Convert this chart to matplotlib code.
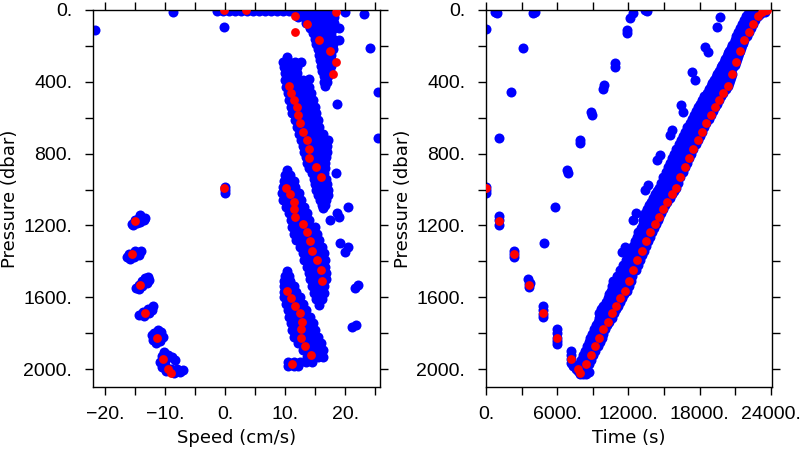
import matplotlib
matplotlib.use("Agg")
import matplotlib.pyplot as plt
from matplotlib.ticker import MultipleLocator, FuncFormatter

# ping values: pressure (dbar), speed (cm/s), time (s)
red_pres = [993, 1174, 1361, 1532, 1690, 1825, 1946, 2000, 2021,
            1974, 1922, 1872, 1825, 1779, 1736, 1690, 1647, 1603, 1565,
            1510, 1448, 1393, 1341, 1287, 1239, 1190, 1151, 1109, 1068, 1025, 990,
            932, 876, 826, 774, 724, 678, 631, 585, 542, 501, 461, 422,
            357, 288, 227, 167, 124, 78, 33, 13, 0, 0]
red_speed = [-0.2, -15.05, -15.55, -14.2, -13.3, -11.3, -10.3, -9.55, -8.95,
             11.2, 14.3, 13.3, 12.7, 12.6, 12.8, 12.45, 11.6, 10.9, 10.3,
             16.2, 15.9, 15.3, 14.55, 14.2, 13.6, 12.9, 11.7, 11.5, 11.4, 10.8, 10.1,
             16.0, 15.2, 14.05, 13.95, 13.7, 13.05, 12.5, 12.2, 11.9, 11.5, 10.9, 10.7,
             17.9, 18.5, 17.4, 15.7, 11.7, 13.6, 11.7, 18.4, 3.5, -0.2]
red_time = [0, 1123, 2390, 3600, 4780, 5985, 7190, 7730, 7950,
            8455, 8825, 9190, 9555, 9890, 10260, 10630, 10990, 11330, 11700,
            12060, 12420, 12760, 13130, 13490, 13830, 14200, 14560, 14930, 15290, 15660, 16020,
            16380, 16750, 17110, 17480, 17840, 18210, 18570, 18940, 19300, 19640, 20000, 20370,
            20710, 21080, 21420, 21780, 22140, 22510, 22900, 23250, 23520, 23700]

# bin speeds, rows of (pressure, speeds)
speed_rows = [
    (8, [-1.3, -0.3, 0.7, 1.7, 2.7, 3.7, 4.7, 5.7, 6.7, 7.7, 8.7, 9.7, 10.7, 11.7, 12.7, 13.7, 14.7, 15.7, 16.7, 17.7]),
    (40, [12.2, 13.2, 14.2, 15.2, 16.2, 17.2, 18.2]),
    (70, [13.4, 14.4, 15.4, 16.4, 17.4, 18.2]),
    (100, [14.2, 15.2, 16.2, 17.2, 18.2]),
    (130, [14.7, 15.7, 16.7, 17.7]),
    (160, [14.9, 15.9, 16.9, 17.9]),
    (190, [15.2, 16.2, 17.2, 17.9]),
    (220, [15.4, 16.4, 17.4, 17.9]),
    (250, [15.6, 16.6, 17.6]),
    (280, [15.8, 16.8, 17.7]),
    (310, [16.0, 16.9, 17.7]),
    (340, [16.2, 17.0, 17.5]),
    (370, [16.4, 17.2]),
    (400, [16.5, 17.0]),
    (425, [16.7]),
    # middle-upper band
    (263, [10.3]),
    (290, [9.6, 10.6, 11.6, 12.6]),
    (320, [9.8, 10.8, 11.9]),
    (353, [9.9, 10.9, 11.9]),
    (390, [10.0, 11.0, 12.0, 13.0]),
    (427, [10.1, 11.1, 12.1, 13.1, 14.0]),
    (460, [10.4, 11.4, 12.4, 13.4, 14.3]),
    (501, [10.7, 11.7, 12.7, 13.7, 14.6]),
    (540, [11.0, 12.0, 13.0, 14.0, 14.9]),
    (576, [11.2, 12.2, 13.2, 14.2, 15.2]),
    (610, [11.6, 12.6, 13.6, 14.6, 15.4]),
    (650, [11.9, 12.9, 13.9, 14.9, 15.7]),
    (690, [12.3, 13.3, 14.3, 15.3, 16.3]),
    (724, [12.6, 13.6, 14.6, 15.6, 16.6, 17.1]),
    (760, [12.9, 13.9, 14.9, 15.9, 16.9]),
    (790, [13.1, 14.1, 15.1, 16.1, 16.9]),
    (817, [13.4, 14.4, 15.4, 16.4, 16.8]),
    (850, [13.7, 14.7, 15.7, 16.7]),
    (880, [14.0, 15.0, 16.0, 16.7]),
    (910, [14.5, 15.5, 16.5]),
    (940, [14.8, 15.8, 16.8]),
    (970, [15.0, 16.0, 17.0]),
    (1003, [15.1, 16.1, 17.2]),
    (1030, [15.4, 16.3, 17.1]),
    (1058, [15.8, 16.8]),
    (1085, [16.1, 16.7]),
    (1103, [16.3]),
    # middle-lower band
    (890, [10.3]),
    (920, [10.0, 10.8]),
    (950, [9.8, 10.8, 11.4]),
    (984, [9.6, 10.6, 11.6]),
    (1020, [9.5, 10.5, 11.5, 12.3]),
    (1058, [9.6, 10.6, 11.6, 12.6]),
    (1095, [10.2, 11.2, 12.2, 13.2]),
    (1133, [10.7, 11.7, 12.7, 13.7]),
    (1170, [11.0, 12.0, 13.0, 14.0]),
    (1207, [11.2, 12.2, 13.2, 14.2, 14.9]),
    (1245, [11.5, 12.5, 13.5, 14.5, 15.3]),
    (1281, [11.8, 12.8, 13.8, 14.8, 15.7]),
    (1320, [12.5, 13.5, 14.5, 15.5, 16.2]),
    (1355, [12.9, 13.9, 14.9, 15.9, 16.4]),
    (1393, [13.2, 14.2, 15.2, 16.2, 16.6]),
    (1430, [13.6, 14.6, 15.6, 16.6]),
    (1465, [13.9, 14.9, 15.9, 16.8]),
    (1500, [14.1, 15.1, 16.1, 16.8]),
    (1540, [14.5, 15.5, 16.5]),
    (1578, [14.8, 15.7, 16.5]),
    (1610, [15.2, 16.2]),
    (1643, [15.6]),
    # deepest band
    (1452, [10.3]),
    (1480, [10.0, 10.6]),
    (1510, [9.8, 10.8]),
    (1540, [9.8, 10.8, 11.5]),
    (1570, [9.8, 10.8, 11.8]),
    (1600, [9.8, 10.8, 11.8, 12.4]),
    (1635, [10.1, 11.1, 12.1, 12.9]),
    (1671, [10.4, 11.4, 12.4, 13.5]),
    (1708, [10.7, 11.7, 12.7, 13.7, 14.1]),
    (1746, [11.0, 12.0, 13.0, 14.0, 14.6]),
    (1783, [11.2, 12.2, 13.2, 14.2, 15.0]),
    (1820, [11.5, 12.5, 13.5, 14.5, 15.4]),
    (1857, [12.2, 13.2, 14.2, 15.2, 15.9]),
    (1894, [12.9, 13.9, 14.9, 15.9, 16.3]),
    (1931, [13.6, 14.6, 15.5, 16.3]),
    (1960, [10.4, 11.4, 12.4, 13.4, 14.4]),
    (1985, [10.4, 11.4, 12.2]),
]

# descent bins and isolated bins (speed, pressure)
desc_speed = [-15.5, -15.0, -14.5, -14.0, -13.5, -13.3, -14.6, -15.3, -14.1, -14.2,
              -16.3, -15.8, -15.2, -14.6, -14.0, -15.0, -16.0, -14.3,
              -14.8, -14.4, -13.8, -13.0, -12.6, -13.3, -13.8, -14.3, -12.8,
              -14.3, -13.5, -12.6, -12.2, -12.0, -12.8, -13.6,
              -12.2, -12.0, -11.5, -10.8, -10.4, -10.6, -11.2, -11.8,
              -10.9, -10.5, -10.2, -9.5, -8.8, -8.4, -9.8, -10.6,
              -10.5, -9.8, -8.5, -7.5, -7.0, -8.0, -9.0, -10.0,
              0.0, 0.0, 0.0]
desc_pres = [1190, 1172, 1165, 1160, 1172, 1158, 1185, 1200, 1182, 1140,
             1375, 1385, 1375, 1352, 1345, 1340, 1360, 1362,
             1548, 1556, 1540, 1520, 1505, 1495, 1510, 1530, 1490,
             1698, 1705, 1690, 1670, 1650, 1665, 1680,
             1810, 1840, 1856, 1845, 1820, 1795, 1780, 1798,
             1960, 1930, 1905, 1920, 1935, 1950, 1945, 1962,
             1990, 2012, 2022, 2018, 2006, 1998, 2002, 1978,
             985, 1003, 1020]
odd_speed = [18.9, 18.9, 14.05, 18.6, 20.0, 23.2, 24.2, 25.4, 25.4, -21.6, -8.6, -0.2,
             18.5, 20.4, 18.6, 18.9, 17.5, 19.2, 20.5, 20.0, 22.2, 21.7, 21.1, 21.8]
odd_pres = [102, 167, 386, 525, 9, 22, 213, 455, 715, 111, 13, 93,
            910, 1096, 1133, 1151, 1170, 1300, 1318, 1346, 1532, 1550, 1768, 1755]

# bin times, rows of (pressure, times)
time_rows = [
    (1974, [7800, 8150, 8455, 8650]),
    (1948, [7975, 8325, 8640, 8850]),
    (1922, [8150, 8500, 8825, 9050]),
    (1897, [8325, 8675, 9010, 9225]),
    (1872, [8500, 8850, 9190, 9400]),
    (1848, [8650, 9000, 9370, 9575]),
    (1825, [8800, 9150, 9555, 9750]),
    (1802, [8950, 9325, 9720, 9900]),
    (1779, [9100, 9500, 9890, 10050]),
    (1757, [9275, 9675, 10075, 10225]),
    (1736, [9450, 9850, 10260, 10400]),
    (1713, [9500, 9875, 10250, 10450, 10600]),
    (1690, [9550, 9900, 10250, 10630, 10750]),
    (1668, [9725, 10075, 10425, 10810, 10925]),
    (1647, [9900, 10250, 10600, 10990, 11100]),
    (1625, [10075, 10425, 10775, 11160, 11275]),
    (1603, [10250, 10600, 10950, 11330, 11450]),
    (1584, [10400, 10750, 11125, 11515, 11650]),
    (1565, [10550, 10900, 11300, 11700, 11850]),
    (1537, [10625, 10975, 11350, 11725, 11900, 12050]),
    (1510, [10700, 11050, 11400, 11750, 12060, 12250]),
    (1479, [11000, 11350, 11700, 12090, 12330]),
    (1448, [11300, 11650, 12000, 12420, 12600]),
    (1420, [11550, 11875, 12225, 12590, 12775]),
    (1393, [11800, 12100, 12450, 12760, 12950]),
    (1367, [12000, 12300, 12625, 12945, 13150]),
    (1341, [12200, 12500, 12800, 13130, 13350]),
    (1314, [12375, 12675, 12975, 13310, 13500]),
    (1287, [12550, 12850, 13150, 13490, 13650]),
    (1263, [12700, 13025, 13325, 13660, 13825]),
    (1239, [12850, 13200, 13500, 13830, 14000]),
    (1214, [13025, 13350, 13675, 14015, 14175]),
    (1190, [13200, 13500, 13850, 14200, 14350]),
    (1170, [13250, 13575, 13925, 14250, 14455]),
    (1151, [13300, 13650, 14000, 14300, 14560]),
    (1130, [13425, 13775, 14125, 14450, 14745]),
    (1109, [13550, 13900, 14250, 14600, 14930]),
    (1088, [13725, 14075, 14425, 14775, 15110]),
    (1068, [13900, 14250, 14600, 14950, 15290]),
    (1046, [14075, 14425, 14775, 15125, 15475]),
    (1025, [14250, 14600, 14950, 15300, 15660]),
    (1007, [14425, 14775, 15125, 15475, 15840]),
    (990, [14600, 14950, 15300, 15650, 16020]),
    (961, [14775, 15125, 15475, 15825, 16200]),
    (932, [14950, 15300, 15650, 16000, 16380]),
    (904, [15150, 15500, 15850, 16200, 16565]),
    (876, [15350, 15700, 16050, 16400, 16750]),
    (851, [15525, 15875, 16225, 16575, 16930]),
    (826, [15700, 16050, 16400, 16750, 17110]),
    (800, [15875, 16225, 16575, 16925, 17295]),
    (774, [16050, 16400, 16750, 17100, 17480]),
    (749, [16250, 16600, 16950, 17300, 17660]),
    (724, [16450, 16800, 17150, 17500, 17840]),
    (701, [16625, 16975, 17325, 17675, 18025]),
    (678, [16800, 17150, 17500, 17850, 18210]),
    (654, [16975, 17325, 17675, 18025, 18390]),
    (631, [17150, 17500, 17850, 18200, 18570]),
    (608, [17350, 17700, 18050, 18400, 18755]),
    (585, [17550, 17900, 18250, 18600, 18940]),
    (563, [17725, 18075, 18425, 18775, 19120]),
    (542, [17900, 18250, 18600, 18950, 19300]),
    (521, [18050, 18400, 18750, 19100, 19470]),
    (501, [18200, 18550, 18900, 19250, 19640]),
    (481, [18400, 18750, 19100, 19450, 19820]),
    (461, [18600, 18950, 19300, 19650, 20000]),
    (441, [18775, 19125, 19475, 19825, 20185]),
    (422, [18950, 19300, 19650, 20000, 20370]),
    (406, [19075, 19425, 19775, 20125, 20460]),
    (390, [19200, 19550, 19900, 20250, 20550]),
    (373, [19350, 19700, 20050, 20375, 20630]),
    (357, [19500, 19850, 20200, 20500, 20710]),
    (338, [19650, 20000, 20350, 20675]),
    (320, [19800, 20150, 20500, 20850]),
    (304, [19925, 20275, 20625, 20965]),
    (288, [20050, 20400, 20750, 21080]),
    (272, [20175, 20525, 20875, 21165]),
    (257, [20300, 20650, 21000, 21250]),
    (242, [20400, 20750, 21075, 21335]),
    (227, [20500, 20850, 21150, 21420]),
    (212, [20625, 20950, 21250, 21510]),
    (197, [20750, 21050, 21350, 21600]),
    (182, [20875, 21175, 21450, 21690]),
    (167, [21000, 21300, 21550, 21780]),
    (145, [21100, 21400, 21700, 21960]),
    (124, [21200, 21500, 21850, 22140]),
    (101, [21400, 21700, 22025, 22325]),
    (78, [21600, 21900, 22200, 22510]),
    (55, [21775, 22075, 22400, 22705]),
    (33, [21950, 22250, 22600, 22900]),
    (21, [22075, 22375, 22725, 23075]),
    (10, [22200, 22500, 22850, 23250, 23520]),
]

desc_time = [0, 0, 0, 1123, 1123, 1123, 2390, 2390, 2390, 3550, 3600, 3650, 3700,
             4780, 4780, 4780, 4780, 5985, 5985, 5985, 5985, 5985,
             7190, 7190, 7190, 7190, 7300, 7550, 7730, 7950, 8200, 8450, 8700, 8100]
desc_tpres = [985, 1005, 1020, 1150, 1172, 1195, 1340, 1360, 1378, 1500, 1525, 1545, 1520,
              1650, 1672, 1695, 1712, 1775, 1800, 1825, 1845, 1860,
              1900, 1922, 1945, 1965, 1985, 2000, 2010, 2025, 2030, 2025, 2015, 1995]
odd_time = [0, 760, 900, 1120, 2110, 3090, 3990, 4150, 4890, 5820, 6890, 6850, 7920, 7880,
            8910, 8880, 9890, 9950, 10870, 10870, 11910, 11880, 12140, 12420, 13400, 13550,
            11440, 11720, 12360, 12650, 13400, 13680, 14390, 14670, 15510, 15650,
            16410, 16630, 17340, 17620, 18460, 18740, 19450, 19730]
odd_tpres = [107, 9, 14, 711, 457, 213, 15, 12, 1300, 1096, 910, 890, 743, 725,
             585, 568, 442, 420, 316, 295, 130, 110, 46, 18, 0, 3,
             1346, 1318, 1170, 1133, 1003, 975, 836, 808, 696, 668,
             529, 566, 343, 390, 204, 232, 93, 37]


def expand(rows):
    xs, ps = [], []
    for p, vals in rows:
        for v in vals:
            xs.append(v)
            ps.append(p)
    return xs, ps


def dotfmt(v, pos):
    return f"{int(round(v))}.".replace("-", "\u2212")


tick_font = {"family": ["Liberation Sans Narrow", "Liberation Sans"], "size": 14}
label_font = {"family": "DejaVu Sans", "size": 13}
BLUE = "#0000ff"
RED = "#ff0000"

fig = plt.figure(figsize=(8, 4.5), dpi=100)
ax1 = fig.add_axes([0.11625, 0.14, 0.35875, 0.8378])
ax2 = fig.add_axes([0.6075, 0.14, 0.3575, 0.8378])

bs, bp = expand(speed_rows)
ax1.scatter(bs + desc_speed + odd_speed, bp + desc_pres + odd_pres, s=52, c=BLUE, lw=0, zorder=2)
ax1.scatter(red_speed, red_pres, s=40, c=RED, lw=0, zorder=3)

bt, btp = expand(time_rows)
ax2.scatter(bt + desc_time + odd_time, btp + desc_tpres + odd_tpres, s=52, c=BLUE, lw=0, zorder=2)
ax2.scatter(red_time, red_pres, s=40, c=RED, lw=0, zorder=3)

ax1.set_xlim(-22, 25.8)
ax1.xaxis.set_major_locator(MultipleLocator(10))
ax1.xaxis.set_minor_locator(MultipleLocator(5))
ax1.set_xlabel("Speed (cm/s)", **label_font)

ax2.set_xlim(0, 24100)
ax2.xaxis.set_major_locator(MultipleLocator(6000))
ax2.xaxis.set_minor_locator(MultipleLocator(3000))
ax2.set_xlabel("Time (s)", **label_font)

for ax in (ax1, ax2):
    ax.set_ylim(2100, 0)
    ax.yaxis.set_major_locator(MultipleLocator(400))
    ax.yaxis.set_minor_locator(MultipleLocator(200))
    ax.xaxis.set_major_formatter(FuncFormatter(dotfmt))
    ax.yaxis.set_major_formatter(FuncFormatter(dotfmt))
    ax.set_ylabel("Pressure (dbar)", labelpad=3, **label_font)
    ax.tick_params(which="both", direction="out", length=6, width=1,
                   top=True, right=True, color="black")
    ax.tick_params(axis="y", which="major", pad=9)
    ax.tick_params(axis="x", which="major", pad=8)
    for lab in ax.get_xticklabels() + ax.get_yticklabels():
        lab.set_fontfamily(tick_font["family"])
        lab.set_fontsize(tick_font["size"])
    for sp in ax.spines.values():
        sp.set_linewidth(1)

fig.savefig("out.png", dpi=100)
